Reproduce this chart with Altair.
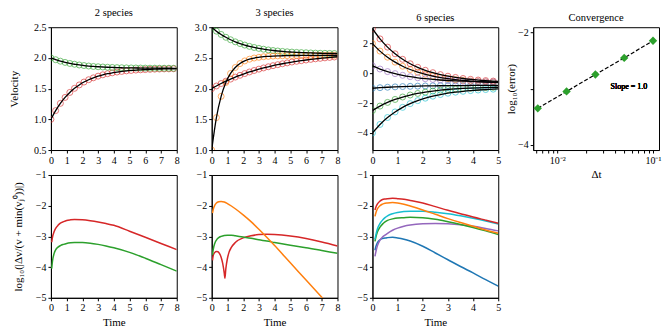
import altair as alt
import pandas as pd

FONT = "Liberation Serif"

# ---------------- data ----------------
T8 = [0.0, 0.3, 0.6, 0.9, 1.2, 1.5, 1.8, 2.1, 2.4, 2.7, 3.0, 3.3, 3.6, 3.9, 4.2,
      4.5, 4.8, 5.1, 5.4, 5.7, 6.0, 6.3, 6.6, 6.9, 7.2, 7.5, 7.8, 8.0]
T5 = [0.0, 0.3, 0.6, 0.9, 1.2, 1.5, 1.8, 2.1, 2.4, 2.7, 3.0, 3.3, 3.6, 3.9, 4.2,
      4.5, 4.8, 5.0]

# 2 species velocities
V2_RED = [1.000, 1.142, 1.260, 1.357, 1.438, 1.505, 1.560, 1.607, 1.645, 1.676,
          1.703, 1.725, 1.743, 1.757, 1.770, 1.780, 1.789, 1.796, 1.802, 1.806,
          1.810, 1.814, 1.817, 1.819, 1.821, 1.822, 1.824, 1.824]
V2_GREEN = [2.000, 1.971, 1.947, 1.927, 1.910, 1.897, 1.885, 1.876, 1.868, 1.861,
            1.856, 1.852, 1.848, 1.845, 1.842, 1.840, 1.838, 1.837, 1.836, 1.835,
            1.834, 1.833, 1.833, 1.832, 1.832, 1.832, 1.831, 1.831]

# 3 species velocities
V3_GREEN = [3.000, 2.936, 2.882, 2.836, 2.796, 2.762, 2.734, 2.709, 2.688, 2.670,
            2.655, 2.642, 2.630, 2.621, 2.613, 2.606, 2.600, 2.595, 2.590, 2.587,
            2.584, 2.581, 2.578, 2.576, 2.575, 2.573, 2.572, 2.572]
V3_ORANGE = [1.000, 1.528, 1.874, 2.100, 2.247, 2.344, 2.408, 2.451, 2.479, 2.498,
             2.510, 2.520, 2.525, 2.530, 2.533, 2.535, 2.537, 2.539, 2.539, 2.540,
             2.541, 2.541, 2.542, 2.542, 2.542, 2.543, 2.543, 2.543]
V3_RED = [2.000, 2.043, 2.083, 2.121, 2.155, 2.188, 2.217, 2.245, 2.271, 2.295,
          2.317, 2.337, 2.356, 2.374, 2.390, 2.405, 2.419, 2.433, 2.445, 2.455,
          2.466, 2.476, 2.485, 2.493, 2.501, 2.508, 2.515, 2.519]

# 6 species velocities
V6_RED = [3.000, 2.317, 1.763, 1.314, 0.945, 0.646, 0.405, 0.208, 0.047, -0.084,
          -0.190, -0.274, -0.345, -0.402, -0.449, -0.486, -0.517, -0.534]
V6_ORANGE = [2.000, 1.495, 1.085, 0.753, 0.480, 0.259, 0.080, -0.066, -0.184, -0.281,
             -0.360, -0.422, -0.475, -0.517, -0.551, -0.579, -0.601, -0.614]
V6_PURPLE = [0.500, 0.291, 0.120, -0.017, -0.131, -0.222, -0.296, -0.357, -0.406, -0.446,
             -0.479, -0.505, -0.526, -0.544, -0.558, -0.570, -0.579, -0.584]
V6_BLUE = [-1.000, -0.963, -0.932, -0.908, -0.887, -0.871, -0.858, -0.847, -0.838, -0.831,
           -0.825, -0.821, -0.817, -0.814, -0.811, -0.809, -0.807, -0.806]
V6_GREEN = [-2.500, -2.197, -1.951, -1.752, -1.588, -1.455, -1.348, -1.261, -1.189, -1.131,
            -1.084, -1.047, -1.015, -0.990, -0.969, -0.953, -0.939, -0.932]
V6_CYAN = [-4.000, -3.430, -2.966, -2.591, -2.283, -2.033, -1.831, -1.667, -1.533, -1.423,
           -1.334, -1.264, -1.205, -1.157, -1.118, -1.087, -1.061, -1.047]

# error curves (log10 of relative error)
E8_T = [0.05, 0.1, 0.2, 0.3, 0.45, 0.6, 0.8, 1.0, 1.25, 1.5, 2.0, 2.5, 3.0, 3.5,
        4.0, 5.0, 6.0, 7.0, 8.0]
E2_RED = [-3.19, -3.02, -2.85, -2.74, -2.64, -2.57, -2.52, -2.48, -2.46, -2.45,
          -2.46, -2.49, -2.53, -2.58, -2.64, -2.83, -3.03, -3.23, -3.43]
E2_GREEN = [-4.05, -3.80, -3.56, -3.44, -3.35, -3.30, -3.26, -3.23, -3.21, -3.20,
            -3.20, -3.22, -3.26, -3.31, -3.37, -3.52, -3.71, -3.92, -4.13]
E3_ORANGE = [-2.24, -2.12, -1.98, -1.91, -1.87, -1.86, -1.88, -1.93, -2.01, -2.10,
             -2.30, -2.52, -2.77, -3.03, -3.30, -3.86, -4.42, -4.98, -5.54]
E3_GREEN = [-3.60, -3.42, -3.22, -3.12, -3.04, -3.00, -2.97, -2.96, -2.96, -2.98,
            -3.02, -3.06, -3.11, -3.15, -3.20, -3.29, -3.37, -3.46, -3.55]
E3_RED_T = [0.05, 0.1, 0.2, 0.3, 0.4, 0.5, 0.6, 0.7, 0.8, 0.84, 0.9, 1.0, 1.1, 1.25,
            1.5, 2.0, 2.5, 3.0, 3.5, 4.0, 5.0, 6.0, 7.0, 8.0]
E3_RED = [-3.78, -3.62, -3.52, -3.49, -3.50, -3.56, -3.68, -3.88, -4.20, -4.36, -4.05,
          -3.72, -3.52, -3.36, -3.20, -3.05, -2.98, -2.94, -2.93, -2.94, -2.99, -3.07,
          -3.18, -3.31]
E5_T = [0.1, 0.15, 0.2, 0.3, 0.4, 0.5, 0.6, 0.8, 1.0, 1.25, 1.5, 2.0, 2.5, 3.0, 3.5,
        4.0, 4.5, 5.0]
E6_RED = [-2.14, -2.02, -1.94, -1.85, -1.80, -1.78, -1.77, -1.76, -1.77, -1.79, -1.83,
          -1.91, -2.03, -2.15, -2.26, -2.37, -2.47, -2.57]
E6_ORANGE = [-2.35, -2.20, -2.10, -2.00, -1.95, -1.92, -1.91, -1.90, -1.91, -1.95, -2.01,
             -2.14, -2.28, -2.42, -2.55, -2.67, -2.79, -2.90]
E6_CYAN = [-3.10, -2.90, -2.75, -2.58, -2.47, -2.39, -2.33, -2.26, -2.22, -2.19, -2.18,
           -2.18, -2.21, -2.26, -2.33, -2.41, -2.50, -2.60]
E6_GREEN = [-3.16, -2.98, -2.85, -2.70, -2.60, -2.53, -2.48, -2.43, -2.40, -2.39, -2.38,
            -2.39, -2.44, -2.52, -2.61, -2.71, -2.82, -2.94]
E6_PURPLE = [-3.65, -3.45, -3.30, -3.12, -3.02, -2.96, -2.90, -2.80, -2.73, -2.67, -2.63,
             -2.59, -2.58, -2.59, -2.62, -2.67, -2.74, -2.82]
E6_BLUE = [-3.45, -3.30, -3.20, -3.11, -3.07, -3.05, -3.04, -3.03, -3.05, -3.09, -3.15,
           -3.32, -3.54, -3.76, -3.98, -4.19, -4.41, -4.62]

# convergence
DT = [0.00625, 0.0125, 0.025, 0.05, 0.1]
ERR = [-3.35, -3.05, -2.75, -2.455, -2.15]

NAMES = ["red", "green", "orange", "purple", "blue", "cyan"]
COLORS = ["#d62728", "#2ca02c", "#ff7f0e", "#9467bd", "#1f77b4", "#17becf"]

W, H = 126, 123


def long_df(series):
    rows = []
    for name, (times, vals) in series.items():
        n = len(vals)
        for i, (t, v) in enumerate(zip(times, vals)):
            rows.append({"t": t, "v": v, "s": name, "last": i == n - 1})
    return pd.DataFrame(rows)


COLOR = alt.Color("s:N", scale=alt.Scale(domain=NAMES, range=COLORS), legend=None)


def top_panel(series, title, xdom, xticks, ydom, yticks, yfmt, ytitle):
    df = long_df(series)
    x = alt.X("t:Q", scale=alt.Scale(domain=xdom, nice=False, zero=False),
              axis=alt.Axis(values=xticks, format="d", title=None))
    y = alt.Y("v:Q", scale=alt.Scale(domain=ydom, nice=False, zero=False),
              axis=alt.Axis(values=yticks, format=yfmt, title=ytitle, titlePadding=14))
    pts = alt.Chart(df[~df["last"]]).mark_point(
        shape="circle", filled=False, size=36, strokeWidth=0.9, opacity=0.7, clip=True
    ).encode(x=x, y=y, color=COLOR)
    line = alt.Chart(df).mark_line(
        color="black", strokeWidth=1.3, interpolate="monotone", clip=True
    ).encode(x=x, y=y, detail="s:N")
    return alt.layer(pts, line).properties(width=W, height=H, title=title)


def bottom_panel(series, xdom, xticks, ytitle):
    df = long_df(series)
    x = alt.X("t:Q", scale=alt.Scale(domain=xdom, nice=False, zero=False),
              axis=alt.Axis(values=xticks, format="d", title="Time"))
    y = alt.Y("v:Q", scale=alt.Scale(domain=[-5, -1], nice=False, zero=False),
              axis=alt.Axis(values=[-5, -4, -3, -2, -1], format="d", title=ytitle,
                            titlePadding=12))
    return alt.Chart(df).mark_line(
        strokeWidth=1.5, interpolate="monotone", clip=True
    ).encode(x=x, y=y, color=COLOR, detail="s:N").properties(width=W, height=H)


p1 = top_panel({"red": (T8, V2_RED), "green": (T8, V2_GREEN)}, "2 species",
               [0, 8], list(range(9)), [0.5, 2.5], [0.5, 1.0, 1.5, 2.0, 2.5], ".1f", "Velocity")
p2 = top_panel({"red": (T8, V3_RED), "green": (T8, V3_GREEN), "orange": (T8, V3_ORANGE)},
               "3 species", [0, 8], list(range(9)), [1.0, 3.0],
               [1.0, 1.5, 2.0, 2.5, 3.0], ".1f", None)
p3 = top_panel({"blue": (T5, V6_BLUE), "orange": (T5, V6_ORANGE), "green": (T5, V6_GREEN),
                "red": (T5, V6_RED), "purple": (T5, V6_PURPLE), "cyan": (T5, V6_CYAN)},
               "6 species", [0, 5], list(range(6)), [-5.15, 3.1], [-4, -2, 0, 2], "d", None)

# convergence panel
conv = pd.DataFrame({"dt": DT, "err": ERR})
minor = [0.006, 0.007, 0.008, 0.009, 0.01, 0.02, 0.03, 0.04, 0.05, 0.06, 0.07, 0.08,
         0.09, 0.1]
xc = alt.X("dt:Q", scale=alt.Scale(type="log", domain=[0.0056, 0.1155], nice=False),
           axis=alt.Axis(values=minor, title="Δt", labelOverlap=False,
                         labelExpr="datum.value == 0.01 ? '10⁻²' : (datum.value == 0.1 ? '10⁻¹' : '')"))
yc = alt.Y("err:Q", scale=alt.Scale(domain=[-4.09, -1.91], nice=False, zero=False),
           axis=alt.Axis(values=[-4, -3.5, -3, -2.5, -2], title="log₁₀(error)",
                         titlePadding=1,
                         labelExpr="datum.value == -2 ? '−2' : (datum.value == -4 ? '−4' : '')"))
c_line = alt.Chart(conv).mark_line(color="black", strokeWidth=1.2, strokeDash=[4, 2]).encode(x=xc, y=yc)
c_pts = alt.Chart(conv).mark_point(shape="diamond", filled=True, color="#2ca02c", size=70,
                                   opacity=1).encode(x=xc, y=yc)
c_txt = alt.Chart(conv).mark_text(text="Slope = 1.0", font=FONT, fontSize=8, fontWeight=400,
                                  color="black").encode(x=alt.datum(0.056), y=alt.datum(-2.97))
p4 = alt.layer(c_line, c_pts, c_txt).properties(width=W, height=H, title="Convergence")

b1 = bottom_panel({"red": (E8_T, E2_RED), "green": (E8_T, E2_GREEN)}, [0, 8],
                  list(range(9)), "log₁₀(|Δv/(v + min(vⱼ⁰))|)")
b2 = bottom_panel({"red": (E3_RED_T, E3_RED), "green": (E8_T, E3_GREEN),
                   "orange": (E8_T, E3_ORANGE)}, [0, 8], list(range(9)), None)
b3 = bottom_panel({"blue": (E5_T, E6_BLUE), "purple": (E5_T, E6_PURPLE),
                   "green": (E5_T, E6_GREEN), "cyan": (E5_T, E6_CYAN),
                   "orange": (E5_T, E6_ORANGE), "red": (E5_T, E6_RED)},
                  [0, 5], list(range(6)), None)

chart = alt.concat(
    p1, p2, p3, p4, b1, b2, b3, columns=4, bounds="flush",
    spacing=alt.RowColnumber(row=25, column=35)
).properties(
    padding={"left": 0, "top": -1, "right": 0, "bottom": 0}
).configure_view(
    stroke="black", strokeWidth=1
).configure_axis(
    grid=False, domainColor="black", domainWidth=1, tickColor="black", tickSize=3,
    labelColor="black", labelFont=FONT, labelFontSize=10, labelFontWeight=400,
    labelPadding=2, labelFlush=False, titleFont=FONT, titleFontSize=11,
    titleFontWeight=400, titleColor="black"
).configure_title(
    font=FONT, fontSize=10.5, fontWeight=400, color="black", offset=0
)

chart.save("out.html", embed_options={"renderer": "svg", "actions": False})
